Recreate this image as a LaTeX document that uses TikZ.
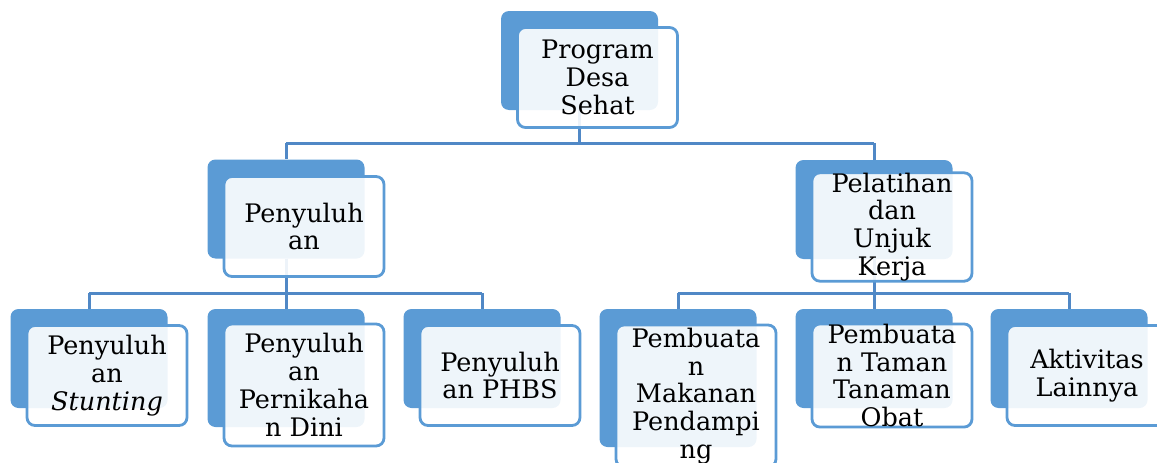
\documentclass[tikz,border=0pt]{standalone}
\usepackage{fontspec}
\setmainfont{DejaVu Serif}
\definecolor{boxblue}{HTML}{5B9BD5}
\definecolor{lineblue}{HTML}{5088C6}
\tikzset{
  backbox/.style={draw=none, fill=boxblue, rounded corners=8pt, minimum width=157pt, minimum height=99pt, inner sep=0pt},
  frontbox/.style={draw=boxblue, line width=2.8pt, fill=white, fill opacity=0.9, text opacity=1, rounded corners=8pt, minimum width=160pt, minimum height=100pt, inner sep=0pt, align=center, font=\fontsize{25.5}{27.8}\selectfont},
  conn/.style={draw=lineblue, line width=3pt}
}
\begin{document}
\begin{tikzpicture}[x=1pt,y=-1pt]
\useasboundingbox (0,0) rectangle (1157,463);
\clip (0,0) rectangle (1157,463);
% back boxes
\node[backbox] (b0) at (579.5,60.5) {};
\node[backbox] (b1) at (286,209) {};
\node[backbox] (b2) at (874,209.5) {};
\node[backbox] (b11) at (89,358.5) {};
\node[backbox, minimum height=118pt] (b12) at (286,368) {};
\node[backbox] (b13) at (482,358.5) {};
\node[backbox, minimum height=138pt] (b21) at (678,378) {};
\node[backbox] (b22) at (874,358.5) {};
\node[backbox] (b23) at (1069,358.5) {};
% junction coordinates
\coordinate (j0) at (579.5,143);
\coordinate (j0l) at (286,143);
\coordinate (j0r) at (874,143);
\coordinate (j1) at (286,293);
\coordinate (j1l) at (89,293);
\coordinate (j1r) at (482,293);
\coordinate (j2) at (874,293);
\coordinate (j2l) at (678,293);
\coordinate (j2r) at (1069,293);
% connectors
\draw[conn] (b0.south) -- (j0);
\draw[conn] (j0l) -- (j0r);
\draw[conn] (j0l) -- (b1.north);
\draw[conn] (j0r) -- (b2.north);
\draw[conn] (b1.south) -- (j1);
\draw[conn] (j1l) -- (j1r);
\draw[conn] (j1l) -- (b11.north);
\draw[conn] (j1) -- (b12.north);
\draw[conn] (j1r) -- (b13.north);
\draw[conn] (b2.south) -- (j2);
\draw[conn] (j2l) -- (j2r);
\draw[conn] (j2l) -- (b21.north);
\draw[conn] (j2) -- (b22.north);
\draw[conn] (j2r) -- (b23.north);
% front boxes
\node[frontbox] (f0) at (597.5,77.5) {Program\\Desa\\Sehat};
\node[frontbox] (f1) at (304,226.5) {Penyuluh\\an};
\node[frontbox] (f2) at (892,227) {Pelatihan\\dan\\Unjuk\\Kerja};
\node[frontbox] (f11) at (107,375.5) {Penyuluh\\an\\\textit{Stunting}};
\node[frontbox, minimum height=122pt] (f12) at (304,385) {Penyuluh\\an\\Pernikaha\\n Dini};
\node[frontbox] (f13) at (500,375.5) {Penyuluh\\an PHBS};
\node[frontbox, minimum height=142pt] (f21) at (696,396) {Pembuata\\n\\Makanan\\Pendampi\\ng};
\node[frontbox] (f22) at (892,375.5) {Pembuata\\n Taman\\Tanaman\\Obat};
\node[frontbox] (f23) at (1087,375.5) {Aktivitas\\Lainnya};
\end{tikzpicture}
\end{document}
